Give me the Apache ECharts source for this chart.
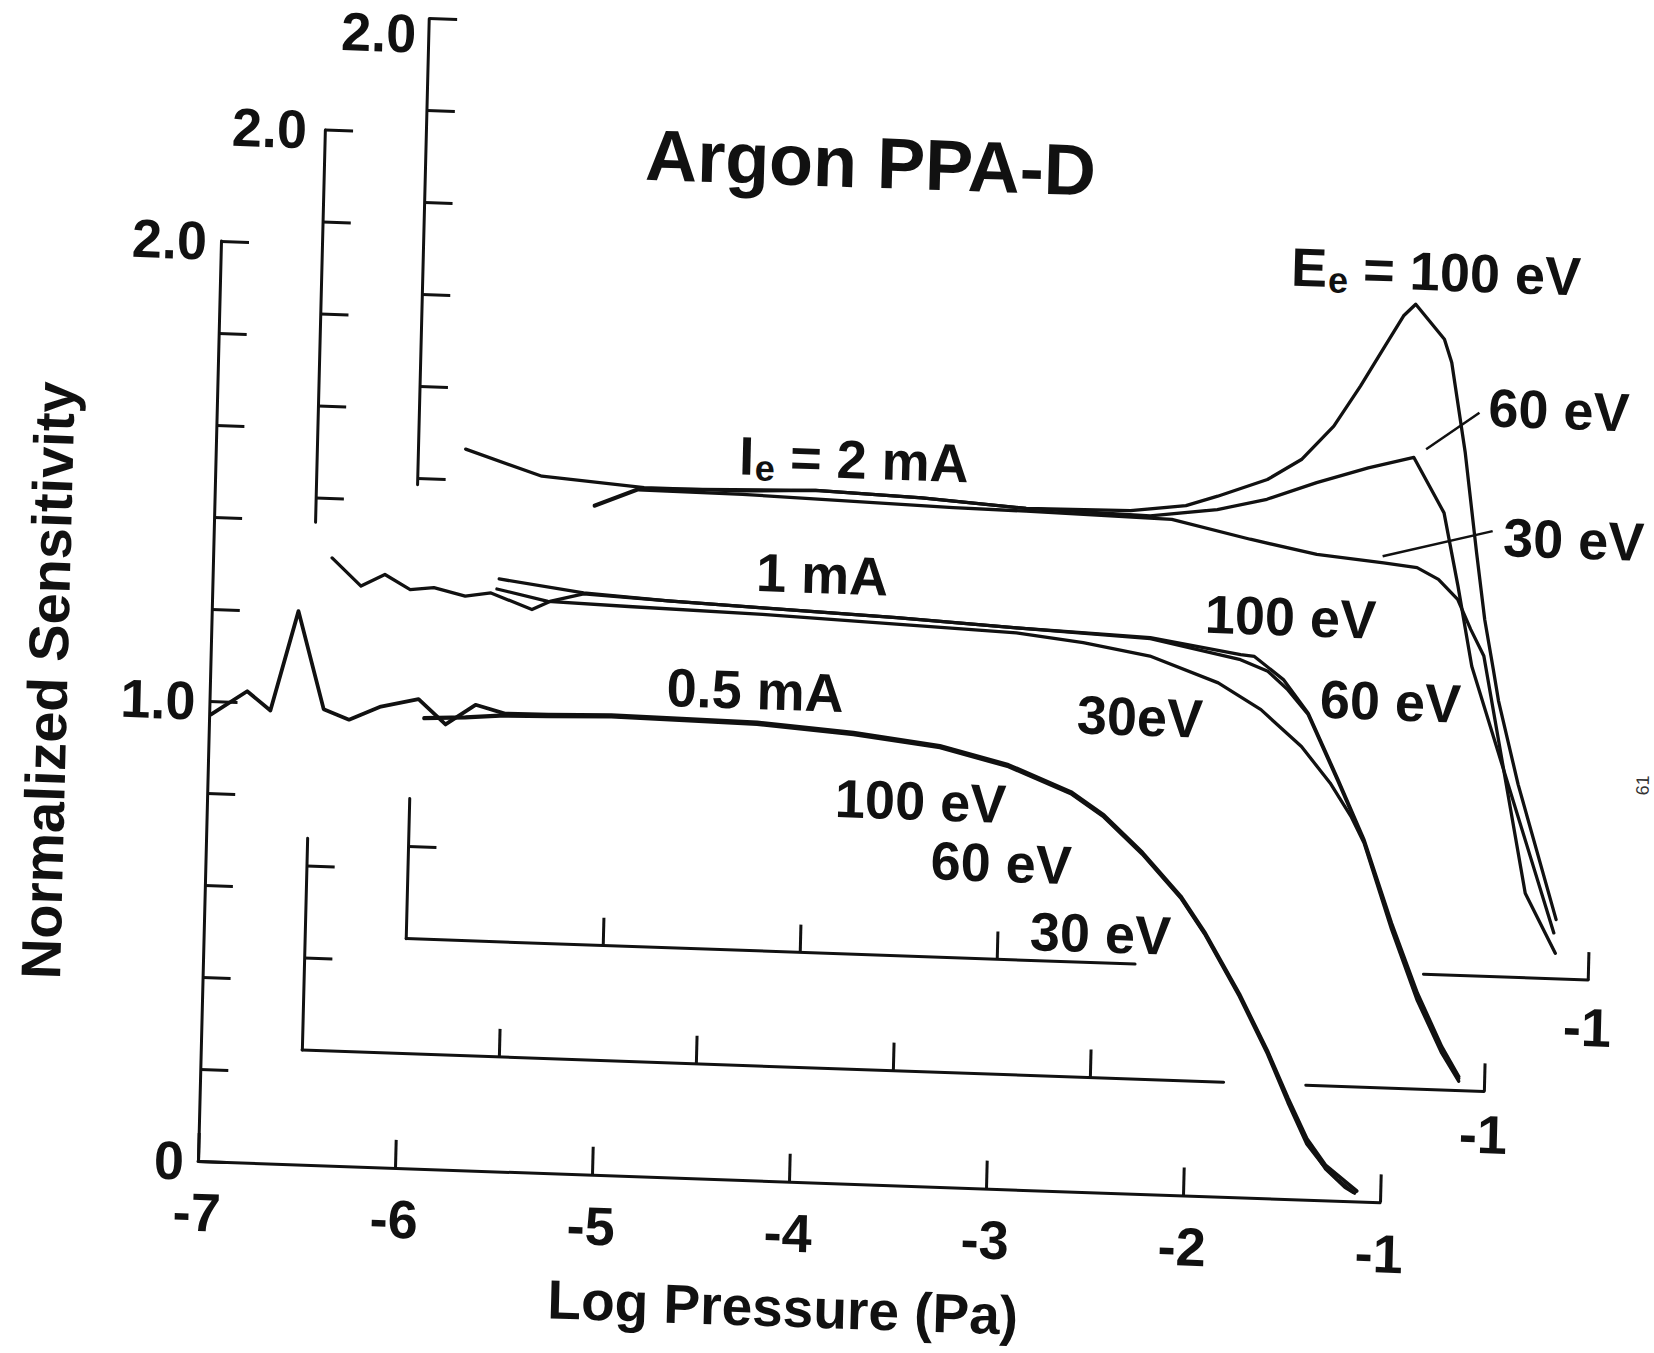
<!DOCTYPE html>
<html><head><meta charset="utf-8">
<script src="https://cdn.jsdelivr.net/npm/echarts@6/dist/echarts.min.js"></script>
<style>
html,body{margin:0;padding:0;background:#fff;overflow:hidden;}
#chart{width:1654px;height:1353px;transform-origin:198px 1161px;transform:matrix(1,0.035,-0.025,1,0,0);}
</style></head><body><div id="chart"></div>
<script>
// ---------------- data (Log pressure [Pa], normalized sensitivity) ----------------
const xTickValues = [-7, -6, -5, -4, -3, -2, -1];
// Ie = 0.5 mA (front panel)
const front100 = [[-6.99,0.971],[-6.81,1.024],[-6.69,0.984],[-6.56,1.202],[-6.42,0.991],[-6.29,0.970],[-6.13,1.001],[-5.94,1.020],[-5.80,0.967],[-5.65,1.012],[-5.50,0.995],[-5.28,0.996],[-4.96,1.000],[-4.22,0.995],[-3.73,0.980],[-3.29,0.958],[-2.94,0.922],[-2.62,0.868],[-2.45,0.820],[-2.25,0.742],[-2.05,0.650],[-1.92,0.571],[-1.74,0.442],[-1.59,0.320],[-1.48,0.219],[-1.38,0.133],[-1.28,0.076],[-1.15,0.033],[-1.12,0.023]];
const front60 = [[-5.91,0.980],[-5.70,0.985],[-5.50,0.992],[-5.28,0.994],[-4.96,0.998],[-4.22,0.993],[-3.73,0.978],[-3.29,0.956],[-2.94,0.920],[-2.62,0.866],[-2.45,0.818],[-2.25,0.740],[-2.05,0.648],[-1.92,0.569],[-1.74,0.440],[-1.59,0.318],[-1.48,0.215],[-1.38,0.128],[-1.28,0.068],[-1.18,0.030],[-1.14,0.020]];
const front30 = [[-5.91,0.978],[-5.70,0.983],[-5.50,0.990],[-5.28,0.992],[-4.96,0.996],[-4.22,0.991],[-3.73,0.976],[-3.29,0.954],[-2.94,0.918],[-2.62,0.864],[-2.45,0.816],[-2.25,0.738],[-2.05,0.646],[-1.92,0.567],[-1.74,0.437],[-1.59,0.314],[-1.48,0.210],[-1.38,0.122],[-1.30,0.080],[-1.22,0.047],[-1.13,0.018]];
// Ie = 1 mA (middle panel)
const mid100 = [[-6.91,1.071],[-6.76,1.012],[-6.64,1.039],[-6.51,1.008],[-6.39,1.014],[-6.23,0.998],[-6.10,1.007],[-5.89,0.974],[-5.80,0.993],[-5.63,1.012],[-5.20,1.003],[-4.72,0.995],[-4.04,0.984],[-3.43,0.971],[-2.75,0.960],[-2.29,0.930],[-2.22,0.927],[-2.07,0.879],[-1.94,0.808],[-1.78,0.666],[-1.64,0.537],[-1.49,0.358],[-1.35,0.208],[-1.22,0.094],[-1.13,0.030]];
const mid60 = [[-6.06,1.038],[-5.63,1.014],[-5.20,1.003],[-4.72,0.995],[-4.04,0.984],[-3.43,0.971],[-2.75,0.958],[-2.29,0.919],[-2.15,0.896],[-2.05,0.859],[-1.94,0.805],[-1.78,0.662],[-1.64,0.533],[-1.49,0.352],[-1.35,0.200],[-1.22,0.088],[-1.13,0.026]];
const mid30 = [[-6.07,1.016],[-5.81,0.993],[-5.40,0.988],[-4.72,0.981],[-4.04,0.970],[-3.43,0.960],[-3.09,0.944],[-2.75,0.920],[-2.40,0.867],[-2.18,0.812],[-1.97,0.735],[-1.82,0.658],[-1.71,0.587],[-1.64,0.530],[-1.49,0.345],[-1.35,0.192],[-1.22,0.080],[-1.13,0.020]];
// Ie = 2 mA (back panel)
const back100 = [[-6.76,1.068],[-6.37,1.015],[-5.85,0.998],[-5.37,0.998],[-4.98,1.005],[-4.44,0.997],[-3.91,0.982],[-3.38,0.985],[-3.10,1.000],[-2.94,1.023],[-2.69,1.063],[-2.52,1.109],[-2.36,1.184],[-2.23,1.273],[-2.11,1.362],[-2.02,1.429],[-1.96,1.455],[-1.81,1.381],[-1.77,1.331],[-1.69,1.136],[-1.62,0.920],[-1.57,0.775],[-1.52,0.667],[-1.49,0.600],[-1.38,0.420],[-1.17,0.129]];
const back60 = [[-6.10,0.956],[-5.88,0.995],[-4.98,1.005],[-4.44,0.997],[-3.91,0.982],[-3.28,0.975],[-2.94,0.994],[-2.69,1.020],[-2.44,1.060],[-2.18,1.096],[-1.95,1.122],[-1.79,1.004],[-1.71,0.846],[-1.63,0.673],[-1.18,0.100]];
const back30 = [[-6.10,0.954],[-5.88,0.993],[-5.35,0.991],[-4.28,0.978],[-3.91,0.976],[-3.17,0.969],[-2.77,0.932],[-2.43,0.904],[-2.09,0.891],[-1.92,0.883],[-1.81,0.859],[-1.71,0.817],[-1.64,0.753],[-1.57,0.696],[-1.33,0.184],[-1.17,0.056]];
// leader lines of the back-panel labels (data coords)
const leader60 = [[-1.889,1.141],[-1.623,1.224]];
const leader30 = [[-2.096,0.905],[-1.541,0.968]];
// visible pieces of the partly hidden middle / back axes
const midYTop = [1.147, 2], midYTopTicks = [1.2,1.4,1.6,1.8,2.0];
const midYBot = [0, 0.46], midYBotTicks = [0.2,0.4];
const midXLeft = [-7, -2.322], midXLeftTicks = [-6,-5,-4,-3];
const midXRight = [-1.905, -1], midXRightTicks = [-1];
const backYTop = [0.987, 2], backYTopTicks = [1.0,1.2,1.4,1.6,1.8,2.0];
const backYBot = [0, 0.305], backYBotTicks = [0.2];
const backXLeft = [-7, -3.30], backXLeftTicks = [-6,-5,-4];
const backXRight = [-1.836, -1], backXRightTicks = [-1];

// ---------------- layout ----------------
const PX = 197, PY = 460;
const FRONT = {left:198, bottom:1161};
const MID = {left:299.2, bottom:1046.4};
const BACK = {left:400.4, bottom:931.7};
const FONT = "'Liberation Sans', Arial, Helvetica, sans-serif";
const INK = '#111';
const AX_W = 3, TICK_LEN = 28, LBL = 54, CURVE_W = 3.3;

function gridFor(f, x0, x1, y0, y1) {
  return {left: f.left + (x0 + 7) * PX, width: (x1 - x0) * PX,
          top: f.bottom - y1 * PY, height: (y1 - y0) * PY, containLabel:false, outerBoundsMode:'none'};
}
const hidden = (gi, mn, mx) => ({type:'value', gridIndex:gi, min:mn, max:mx, show:false});
const lineAx = {show:true, onZero:false, lineStyle:{color:INK, width:AX_W, cap:'round'}};
const tickAx = (vals) => ({show:true, inside:true, length:TICK_LEN, lineStyle:{color:INK, width:AX_W}, ...(vals?{customValues:vals}:{})});
const lblStyle = {color:INK, fontSize:LBL, fontWeight:'bold', fontFamily:FONT};

const grids = [
  gridFor(FRONT,-7,-1,0,2),   // 0
  gridFor(MID,-7,-1,0,2),     // 1
  gridFor(BACK,-7,-1,0,2),    // 2
  gridFor(MID,-7,-6.5,midYTop[0],midYTop[1]),   // 3
  gridFor(MID,-7,-6.5,midYBot[0],midYBot[1]),   // 4
  gridFor(MID,midXLeft[0],midXLeft[1],0,0.1),   // 5
  gridFor(MID,midXRight[0],midXRight[1],0,0.1), // 6
  gridFor(BACK,-7,-6.5,backYTop[0],backYTop[1]),// 7
  gridFor(BACK,-7,-6.5,backYBot[0],backYBot[1]),// 8
  gridFor(BACK,backXLeft[0],backXLeft[1],0,0.1),// 9
  gridFor(BACK,backXRight[0],backXRight[1],0,0.1) // 10
];

const fmtFrontY = v => Math.abs(v-2)<1e-9 ? '2.0' : Math.abs(v-1)<1e-9 ? '1.0' : Math.abs(v)<1e-9 ? '0' : '';

const xAxes = [
  {type:'value', gridIndex:0, min:-7, max:-1, interval:1, axisLine:lineAx, axisTick:tickAx(),
   axisLabel:{...lblStyle, margin:24, formatter:v=>String(v)}, splitLine:{show:false}},
  hidden(1,-7,-1), hidden(2,-7,-1),
  hidden(3,-7,-6.5), hidden(4,-7,-6.5),
  {type:'value', gridIndex:5, min:midXLeft[0], max:midXLeft[1], axisLine:lineAx, axisTick:tickAx(midXLeftTicks), axisLabel:{show:false}, splitLine:{show:false}},
  {type:'value', gridIndex:6, min:midXRight[0], max:midXRight[1], axisLine:lineAx, axisTick:tickAx(midXRightTicks),
   axisLabel:{...lblStyle, margin:16, customValues:midXRightTicks, formatter:v=>String(v)}, splitLine:{show:false}},
  hidden(7,-7,-6.5), hidden(8,-7,-6.5),
  {type:'value', gridIndex:9, min:backXLeft[0], max:backXLeft[1], axisLine:lineAx, axisTick:tickAx(backXLeftTicks), axisLabel:{show:false}, splitLine:{show:false}},
  {type:'value', gridIndex:10, min:backXRight[0], max:backXRight[1], axisLine:lineAx, axisTick:tickAx(backXRightTicks),
   axisLabel:{...lblStyle, margin:20, customValues:backXRightTicks, formatter:v=>String(v)}, splitLine:{show:false}}
];
const yAxes = [
  {type:'value', gridIndex:0, min:0, max:2, interval:0.2, axisLine:lineAx, axisTick:tickAx(),
   axisLabel:{...lblStyle, margin:14, formatter:fmtFrontY}, splitLine:{show:false}},
  hidden(1,0,2), hidden(2,0,2),
  {type:'value', gridIndex:3, min:midYTop[0], max:midYTop[1], axisLine:lineAx, axisTick:tickAx(midYTopTicks),
   axisLabel:{...lblStyle, margin:18, customValues:[2], formatter:()=>'2.0'}, splitLine:{show:false}},
  {type:'value', gridIndex:4, min:midYBot[0], max:midYBot[1], axisLine:lineAx, axisTick:tickAx(midYBotTicks), axisLabel:{show:false}, splitLine:{show:false}},
  hidden(5,0,0.1), hidden(6,0,0.1),
  {type:'value', gridIndex:7, min:backYTop[0], max:backYTop[1], axisLine:lineAx, axisTick:tickAx(backYTopTicks),
   axisLabel:{show:false}, splitLine:{show:false}},
  {type:'value', gridIndex:8, min:backYBot[0], max:backYBot[1], axisLine:lineAx, axisTick:tickAx(backYBotTicks), axisLabel:{show:false}, splitLine:{show:false}},
  hidden(9,0,0.1), hidden(10,0,0.1)
];

function curve(name, gi, data, extra) {
  return Object.assign({name, type:'line', xAxisIndex:gi, yAxisIndex:gi, data, showSymbol:false, symbol:'none',
    smooth:false, clip:false, silent:true, animation:false,
    lineStyle:{color:INK, width:CURVE_W, cap:'round', join:'round'}}, extra || {});
}
const series = [
  curve('0.5 mA 100 eV',0,front100,{lineStyle:{color:INK,width:3.8,cap:'round',join:'round'}}),
  curve('0.5 mA 60 eV',0,front60),
  curve('0.5 mA 30 eV',0,front30),
  curve('1 mA 100 eV',1,mid100),
  curve('1 mA 60 eV',1,mid60),
  curve('1 mA 30 eV',1,mid30),
  curve('2 mA 100 eV',2,back100),
  curve('2 mA 60 eV',2,back60),
  curve('2 mA 30 eV',2,back30,{markLine:{silent:true, symbol:['none','none'], animation:false,
     lineStyle:{color:INK, width:2.5, type:'solid'}, label:{show:false},
     data:[[{coord:leader60[0]},{coord:leader60[1]}],[{coord:leader30[0]},{coord:leader30[1]}]]}})
];

const T = (text, x, y, size, opts) => Object.assign({type:'text', x, y, silent:true,
  style:Object.assign({text, fill:INK, fontSize:size, fontWeight:'bold', fontFamily:FONT, align:'center', verticalAlign:'middle'}, (opts&&opts.style)||{})},
  opts ? {rotation: opts.rotation||0} : {});
const subLabel = (main, sub, rest, x, y, wMain) => ({type:'group', x, y, silent:true, children:[
  {type:'text', x:0, y:0, style:{text:main, fill:INK, fontSize:LBL, fontWeight:'bold', fontFamily:FONT, align:'left', verticalAlign:'middle'}},
  {type:'text', x:wMain+1, y:12, style:{text:sub, fill:INK, fontSize:36, fontWeight:'bold', fontFamily:FONT, align:'left', verticalAlign:'middle'}},
  {type:'text', x:wMain+36, y:0, style:{text:rest, fill:INK, fontSize:LBL, fontWeight:'bold', fontFamily:FONT, align:'left', verticalAlign:'middle'}}
]});

const graphic = [
  T('2.0', 388, 27, LBL, {style:{align:'right'}}),
  T('Argon PPA-D', 845, 140, 72),
  subLabel('E','e','= 100 eV', 1268, 229, 36),
  T('60 eV', 1539, 363, LBL),
  T('30 eV', 1557, 492, LBL),
  subLabel('I','e','= 2 mA', 721, 437, 15),
  T('1 mA', 807, 553, LBL),
  T('100 eV', 1276, 579, LBL),
  T('60 eV', 1378, 660, LBL),
  T('30eV', 1128, 684, LBL),
  T('0.5 mA', 743, 671, LBL),
  T('100 eV', 911, 776, LBL),
  T('60 eV', 993, 835, LBL),
  T('30 eV', 1094, 902, LBL),
  T('Log Pressure (Pa)', 786, 1287, 55),
  T('Normalized Sensitivity', 36, 686, 56, {rotation:Math.PI/2}),
  T('61', 1632, 735, 18, {rotation:Math.PI/2, style:{fontWeight:'normal', fill:'#333'}})
];

const chart = echarts.init(document.getElementById('chart'), null, {renderer:'svg', width:1654, height:1353});
chart.setOption({backgroundColor:'#fff', animation:false, grid:grids, xAxis:xAxes, yAxis:yAxes, series, graphic});
</script></body></html>
